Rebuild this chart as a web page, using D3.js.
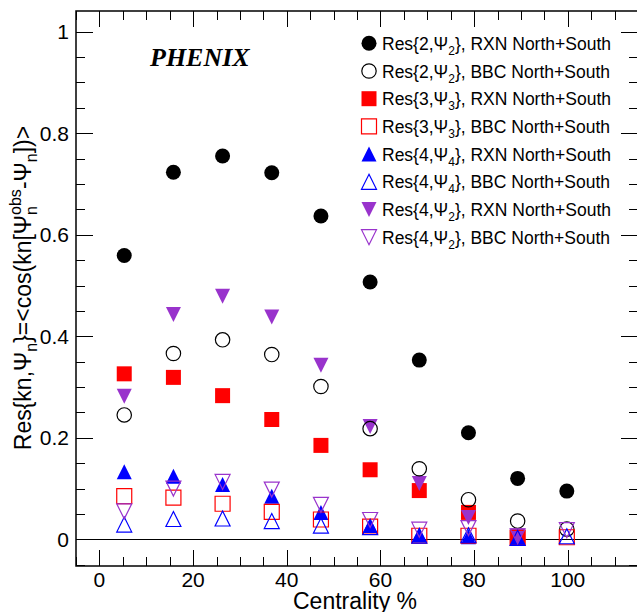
<!DOCTYPE html>
<html><head><meta charset="utf-8">
<script src="https://cdn.jsdelivr.net/npm/d3@7"></script>
<style>body{margin:0;background:#fff}svg{display:block}text{font-family:"Liberation Sans",Arial,sans-serif}</style>
</head><body>
<svg id="c" width="637" height="612"></svg>
<script>
const centrality = [5.3, 15.8, 26.3, 36.8, 47.3, 57.8, 68.3, 78.8, 89.3, 99.8];
const res2RXN = [0.559, 0.723, 0.755, 0.722, 0.637, 0.507, 0.353, 0.210, 0.120, 0.095];
const res2BBC = [0.245, 0.366, 0.393, 0.364, 0.301, 0.218, 0.139, 0.078, 0.036, 0.020];
const res3RXN = [0.326, 0.319, 0.283, 0.236, 0.185, 0.137, 0.096, 0.053, 0.004, null];
const res3BBC = [0.085, 0.082, 0.070, 0.054, 0.039, 0.025, 0.007, 0.007, 0.003, 0.004];
const res4RXN = [0.133, 0.124, 0.108, 0.085, 0.053, 0.027, 0.008, 0.005, 0.003, null];
const res4BBC = [0.029, 0.040, 0.041, 0.036, 0.027, 0.024, 0.007, 0.008, 0.003, 0.006];
const res42RXN = [0.282, 0.443, 0.479, 0.438, 0.343, 0.222, 0.110, 0.043, 0.007, null];
const res42BBC = [0.055, 0.100, 0.113, 0.098, 0.068, 0.038, 0.019, 0.022, 0.006, 0.018];
const xTicks = [0, 20, 40, 60, 80, 100];
const yTicks = [0, 0.2, 0.4, 0.6, 0.8, 1];
const yTickLabels = ["0", "0.2", "0.4", "0.6", "0.8", "1"];

const series = [
  {v: res2RXN, shape: "circle", fill: true, color: "#000000", k: "2", p: "2", det: "RXN"},
  {v: res2BBC, shape: "circle", fill: false, color: "#000000", k: "2", p: "2", det: "BBC"},
  {v: res3RXN, shape: "square", fill: true, color: "#ff0000", k: "3", p: "3", det: "RXN"},
  {v: res3BBC, shape: "square", fill: false, color: "#ff0000", k: "3", p: "3", det: "BBC"},
  {v: res4RXN, shape: "up", fill: true, color: "#0000ff", k: "4", p: "4", det: "RXN"},
  {v: res4BBC, shape: "up", fill: false, color: "#0000ff", k: "4", p: "4", det: "BBC"},
  {v: res42RXN, shape: "down", fill: true, color: "#9933cc", k: "4", p: "2", det: "RXN"},
  {v: res42BBC, shape: "down", fill: false, color: "#9933cc", k: "4", p: "2", det: "BBC"}
];

const svg = d3.select("#c");
const L = 76, R = 638, T = 11, B = 566;
const x = d3.scaleLinear().domain([-5, 115]).range([L, R]);
const y = d3.scaleLinear().domain([-0.0526, 1.0408]).range([B, T]);

// frame
svg.append("rect").attr("x", L).attr("y", T).attr("width", R - L).attr("height", B - T)
  .attr("fill", "none").attr("stroke", "#000").attr("stroke-width", 1.5);

// ticks
const xMinor = d3.range(-5, 116, 5);
const yMinor = d3.range(-0.05, 1.04, 0.05);
const tg = svg.append("g").attr("stroke", "#000").attr("stroke-width", 1);
xMinor.forEach(t => {
  const major = xTicks.includes(Math.round(t));
  const len = major ? 16 : 9;
  const px = Math.round(x(t)) + 0.5;
  tg.append("line").attr("x1", px).attr("x2", px).attr("y1", B).attr("y2", B - len);
  tg.append("line").attr("x1", px).attr("x2", px).attr("y1", T).attr("y2", T + len);
});
yMinor.forEach(t => {
  const tt = Math.round(t * 100) / 100;
  const major = yTicks.some(v => Math.abs(v - tt) < 1e-6);
  const len = major ? 17 : 9;
  const py = Math.round(y(tt)) + 0.5;
  tg.append("line").attr("x1", L).attr("x2", L + len).attr("y1", py).attr("y2", py);
  tg.append("line").attr("x1", R).attr("x2", R - len).attr("y1", py).attr("y2", py);
});

// tick labels
svg.append("g").selectAll("text").data(xTicks).join("text")
  .attr("x", d => x(d)).attr("y", 587).attr("text-anchor", "middle")
  .attr("font-size", 21).text(d => d);
svg.append("g").selectAll("text").data(yTicks).join("text")
  .attr("x", 69).attr("y", d => y(d) + 7.5).attr("text-anchor", "end")
  .attr("font-size", 21).text((d, i) => yTickLabels[i]);

// zero line
svg.append("line").attr("x1", L).attr("x2", R).attr("y1", Math.round(y(0)) + 0.5).attr("y2", Math.round(y(0)) + 0.5)
  .attr("stroke", "#000").attr("stroke-width", 1);

// axis titles
svg.append("text").attr("x", 355).attr("y", 609).attr("text-anchor", "middle")
  .attr("font-size", 23).text("Centrality %");

const yt = svg.append("text").attr("transform", "translate(31,288) rotate(-90)")
  .attr("text-anchor", "middle").attr("font-size", 23);
yt.append("tspan").text("Res{kn,Ψ");
yt.append("tspan").attr("font-size", 16).attr("dy", 6).text("n");
yt.append("tspan").attr("dy", -6).text("}=<cos(kn[Ψ");
yt.append("tspan").attr("font-size", 16).attr("dy", -10).text("obs");
yt.append("tspan").attr("font-size", 16).attr("dx", -25.8).attr("dy", 16).text("n");
yt.append("tspan").attr("dx", 17).attr("dy", -6).text("-Ψ");
yt.append("tspan").attr("font-size", 16).attr("dy", 6).text("n");
yt.append("tspan").attr("dy", -6).text("])>");

// PHENIX
svg.append("text").attr("x", 150).attr("y", 66)
  .style("font-family", "'Liberation Serif','Times New Roman',serif")
  .attr("font-weight", "bold").attr("font-style", "italic").attr("font-size", 26).text("PHENIX");

// markers
const S = 15;
function shapePath(shape) {
  const h = S / 2;
  if (shape === "square") return `M${-h},${-h}H${h}V${h}H${-h}Z`;
  if (shape === "up") return `M0,${-h}L${h},${h}L${-h},${h}Z`;
  if (shape === "down") return `M0,${h}L${h},${-h}L${-h},${-h}Z`;
  return null;
}
function drawMarker(g, s, cx, cy) {
  let el;
  if (s.shape === "circle") {
    el = g.append("circle").attr("cx", cx).attr("cy", cy).attr("r", s.fill ? 7.5 : 7.2);
  } else {
    el = g.append("path").attr("d", shapePath(s.shape)).attr("transform", `translate(${cx},${cy})`);
  }
  el.attr("fill", s.fill ? s.color : "none").attr("stroke", s.color).attr("stroke-width", s.fill ? 0 : 1.2);
}
const order = [0, 2, 4, 6, 1, 3, 5, 7];
const mg = svg.append("g");
order.forEach(i => {
  const s = series[i];
  s.v.forEach((val, j) => {
    if (val === null) return;
    drawMarker(mg, s, x(centrality[j]), y(val));
  });
});

// legend
const lg = svg.append("g");
series.forEach((s, i) => {
  const cy = 43.3 + i * 27.7;
  drawMarker(lg, s, 369, cy);
  const t = lg.append("text").attr("x", 382).attr("y", cy + 6.5).attr("font-size", 17.5);
  t.append("tspan").text(`Res{${s.k},Ψ`);
  t.append("tspan").attr("font-size", 12).attr("dy", 5).text(s.p);
  t.append("tspan").attr("dy", -5).text(`}, ${s.det} North+South`);
});
</script>
</body></html>
